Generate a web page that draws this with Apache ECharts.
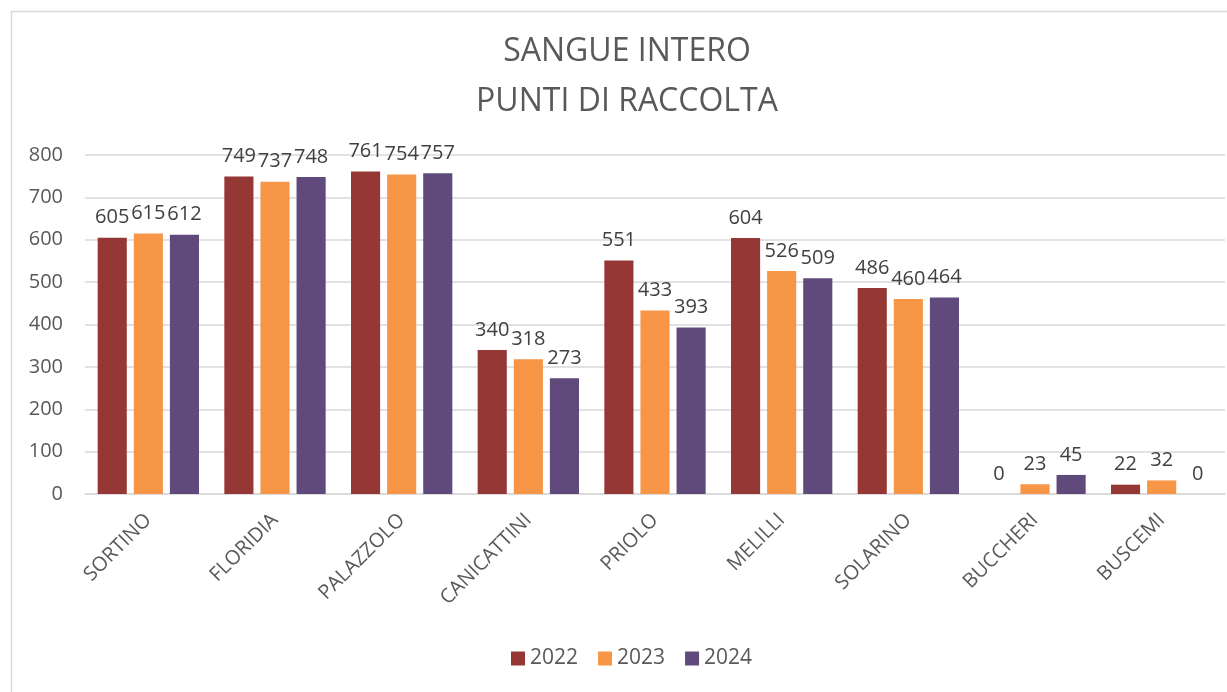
<!DOCTYPE html>
<html>
<head>
<meta charset="utf-8" />
<title>Sangue intero</title>
<script src="https://cdn.jsdelivr.net/npm/echarts@6/dist/echarts.min.js"></script>
<style>
  html, body { margin: 0; padding: 0; background: #fff; }
  #chart { width: 1227px; height: 692px; }
</style>
</head>
<body>
<div id="chart"></div>
<script type="text/javascript">
// dati
var categorie = ['SORTINO', 'FLORIDIA', 'PALAZZOLO', 'CANICATTINI', 'PRIOLO', 'MELILLI', 'SOLARINO', 'BUCCHERI', 'BUSCEMI'];
var anni = ['2022', '2023', '2024'];
var valori2022 = [605, 749, 761, 340, 551, 604, 486, 0, 22];
var valori2023 = [615, 737, 754, 318, 433, 526, 460, 23, 32];
var valori2024 = [612, 748, 757, 273, 393, 509, 464, 45, 0];
var tickY = [0, 100, 200, 300, 400, 500, 600, 700, 800];

var colori = ['#953735', '#f79646', '#604a7b'];
var testo = '#595959';
var font = 'Open Sans';

var myChart = echarts.init(document.getElementById('chart'));

function serie(nome, dati, colore) {
    return {
        name: nome,
        type: 'bar',
        data: dati,
        barGap: '24%',
        barCategoryGap: '20%',
        itemStyle: { color: colore },
        label: {
            show: true,
            position: 'top',
            distance: 10,
            color: '#404040',
            fontFamily: font,
            fontSize: 20
        }
    };
}

var option = {
    backgroundColor: '#fff',
    animation: false,
    textStyle: { fontFamily: font },
    title: {
        text: 'SANGUE INTERO\nPUNTI DI RACCOLTA',
        left: 622,
        textAlign: 'center',
        top: 22,
        textStyle: {
            color: testo,
            fontFamily: font,
            fontWeight: 'normal',
            fontSize: 32,
            lineHeight: 50
        }
    },
    legend: {
        data: anni,
        bottom: 18,
        left: 506,
        itemWidth: 14,
        itemHeight: 14,
        itemGap: 20,
        icon: 'rect',
        textStyle: { color: testo, fontFamily: font, fontSize: 21 }
    },
    grid: {
        left: 85,
        right: 2,
        top: 155,
        bottom: 198
    },
    xAxis: {
        type: 'category',
        data: categorie,
        axisTick: { show: false },
        axisLine: { lineStyle: { color: '#d9d9d9', width: 1.5 } },
        axisLabel: {
            interval: 0,
            rotate: 45,
            margin: 23,
            color: testo,
            fontFamily: font,
            fontSize: 20
        }
    },
    yAxis: {
        type: 'value',
        min: tickY[0],
        max: tickY[tickY.length - 1],
        interval: 100,
        axisLine: { show: false },
        axisTick: { show: false },
        splitLine: { lineStyle: { color: '#d9d9d9', width: 1.5 } },
        axisLabel: {
            margin: 22,
            color: testo,
            fontFamily: font,
            fontSize: 20
        }
    },
    graphic: [{
        type: 'rect',
        left: 9,
        top: 9,
        shape: { width: 1240, height: 700 },
        style: { fill: 'none', stroke: '#d9d9d9', lineWidth: 1.5 },
        z: -1
    }],
    series: [
        serie(anni[0], valori2022, colori[0]),
        serie(anni[1], valori2023, colori[1]),
        serie(anni[2], valori2024, colori[2])
    ]
};

myChart.setOption(option);
</script>
</body>
</html>
